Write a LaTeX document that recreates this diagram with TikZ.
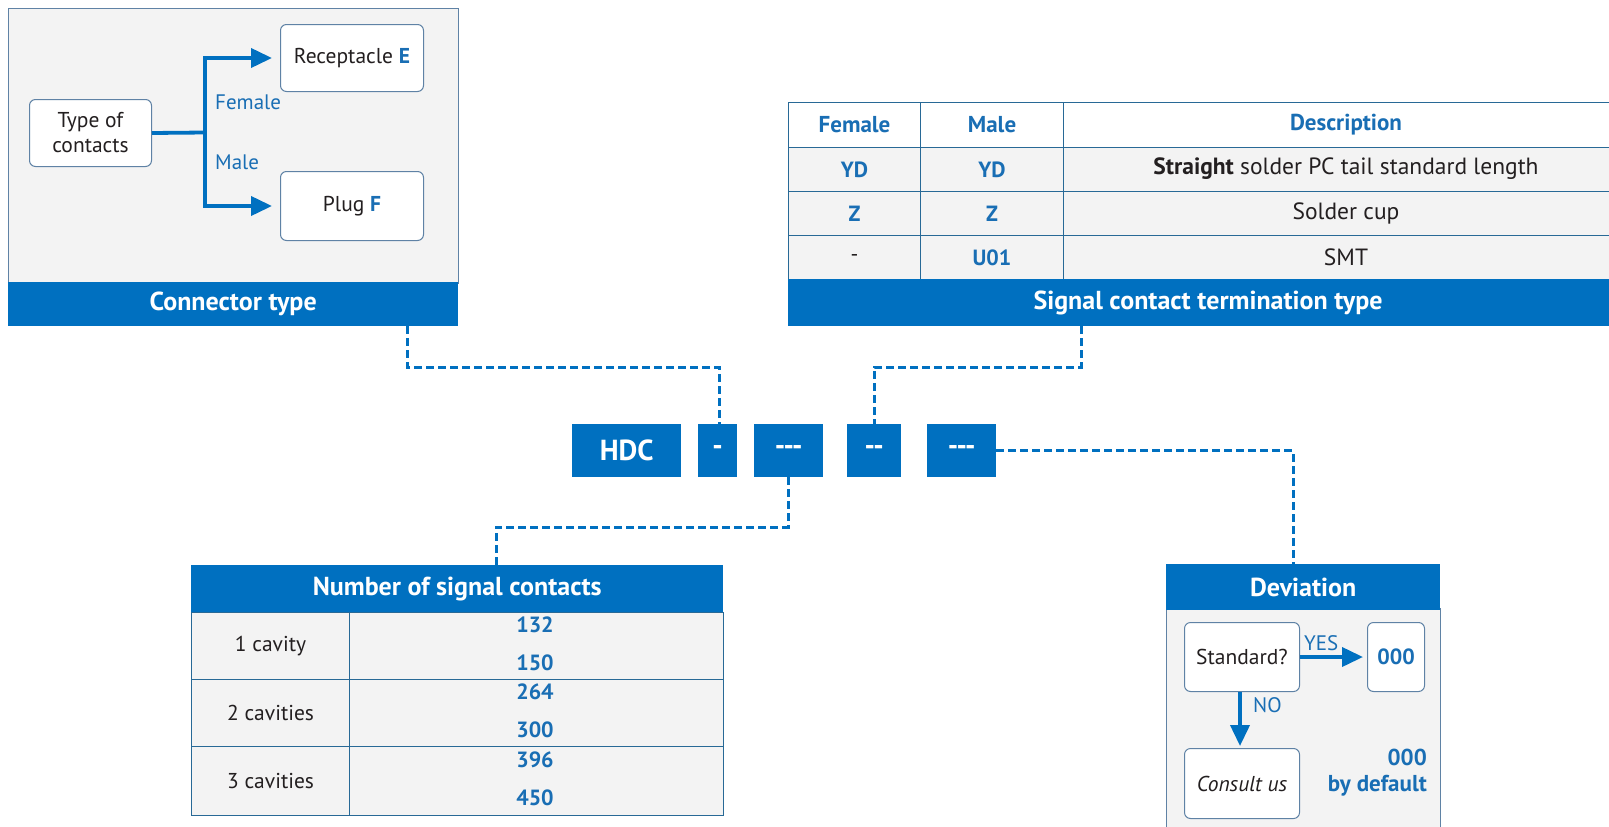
\documentclass[tikz,border=0pt]{standalone}
\usepackage{fontspec}
\setmainfont{PT Sans}
\usetikzlibrary{arrows.meta}
\definecolor{bl}{RGB}{0,112,192}
\definecolor{bgc}{RGB}{243,243,243}
\definecolor{edgec}{RGB}{95,130,165}
\definecolor{linec}{RGB}{40,105,150}
\definecolor{txt}{RGB}{35,31,32}
\definecolor{btxt}{RGB}{25,110,180}
\begin{document}
\begin{tikzpicture}[x=1pt,y=-1pt,
  panel/.style={draw=edgec, fill=bgc, line width=1pt, anchor=north west, inner sep=0pt},
  band/.style={fill=bl, anchor=north west, inner sep=0pt, text=white, font=\fontsize{26}{28}\selectfont\bfseries},
  bandtext/.style={inner sep=0pt, text=white, font=\fontsize{26}{28}\selectfont\bfseries},
  rbox/.style={draw=edgec, fill=white, rounded corners=6pt, line width=1pt, anchor=north west, inner sep=0pt, align=center, text=txt, font=\fontsize{21.5}{25}\selectfont},
  cell/.style={draw=linec, line width=1.1pt, anchor=north west, inner sep=0pt, fill=bgc, text=txt, font=\fontsize{21.5}{25}\selectfont},
  bcell/.style={cell, text=btxt, font=\fontsize{22}{25}\selectfont\bfseries},
  hcell/.style={cell, fill=white, text=btxt, font=\fontsize{23}{26}\selectfont\bfseries},
  desc/.style={inner sep=0pt, text=txt, font=\fontsize{23.5}{26}\selectfont},
  bnum/.style={text=btxt, font=\fontsize{22}{25}\selectfont\bfseries, inner sep=0pt},
  lbl/.style={text=btxt, font=\fontsize{21}{24}\selectfont, inner sep=0pt},
  flow/.style={draw=bl, line width=3.8pt, -{Triangle[length=21pt,width=19pt]}},
  dashlink/.style={draw=bl, line width=3pt, dash pattern=on 8pt off 4pt},
  code/.style={fill=bl, anchor=north west, text=white, inner sep=0pt, font=\fontsize{29}{32}\selectfont\bfseries}
]
\useasboundingbox (0,0) rectangle (1609,827);
\clip (0,0) rectangle (1609,827);

% ---------- Connector type ----------
\node[panel, minimum width=450pt, minimum height=275pt] (ctpanel) at (8,8) {};
\node[band, minimum width=450pt, minimum height=44pt] (ctband) at (8,282) {Connector type};
\node[rbox, minimum width=122pt, minimum height=67pt] (toc) at (29,99) {Type of\\contacts};
\node[rbox, minimum width=143pt, minimum height=67pt] (rec) at (280,24) {Receptacle \textcolor{btxt}{\bfseries E}};
\node[rbox, minimum width=143pt, minimum height=69pt] (plug) at (280,171) {Plug \textcolor{btxt}{\bfseries F}};
\coordinate (split) at (205,132.5);
\draw[flow] (toc.east) -- (split) |- ([xshift=-8pt]rec.west);
\draw[flow] (split) |- ([xshift=-8pt]plug.west);
\node[lbl, anchor=west] (fem) at (215,102) {Female};
\node[lbl, anchor=west] (mal) at (215,162) {Male};

% ---------- Signal contact termination type ----------
\node[hcell, minimum width=132pt, minimum height=45pt] (h1) at (788,102) {Female};
\node[hcell, minimum width=143pt, minimum height=45pt] (h2) at (920,102) {Male};
\node[hcell, minimum width=560pt, minimum height=45pt] (h3) at (1063,102) {};
\node[inner sep=0pt, text=btxt, font=\fontsize{23}{26}\selectfont\bfseries] (h3t) at (1346,125) {Description};
\node[bcell, minimum width=132pt, minimum height=44pt] (a1) at (788,147) {YD};
\node[bcell, minimum width=143pt, minimum height=44pt] (a2) at (920,147) {YD};
\node[cell, minimum width=560pt, minimum height=44pt] (a3) at (1063,147) {};
\node[desc] (a3t) at (1346,169) {\textbf{Straight} solder PC tail standard length};
\node[bcell, minimum width=132pt, minimum height=44pt] (b1) at (788,191) {Z};
\node[bcell, minimum width=143pt, minimum height=44pt] (b2) at (920,191) {Z};
\node[cell, minimum width=560pt, minimum height=44pt] (b3) at (1063,191) {};
\node[desc] (b3t) at (1346,213) {Solder cup};
\node[cell, minimum width=132pt, minimum height=44pt] (c1) at (788,235) {-};
\node[bcell, minimum width=143pt, minimum height=44pt] (c2) at (920,235) {U01};
\node[cell, minimum width=560pt, minimum height=44pt] (c3) at (1063,235) {};
\node[desc] (c3t) at (1346,257) {SMT};
\node[band, minimum width=830pt, minimum height=47pt] (stband) at (788,279) {};
\node[bandtext] (stbandt) at (1208,302.5) {Signal contact termination type};

% ---------- Code boxes ----------
\node[code, minimum width=109pt, minimum height=53pt] (hdc) at (572,424) {HDC};
\node[code, minimum width=39pt, minimum height=53pt] (k1) at (698,424) {-};
\node[code, minimum width=69pt, minimum height=53pt] (k2) at (754,424) {-{}-{}-};
\node[code, minimum width=54pt, minimum height=53pt] (k3) at (847,424) {-{}-};
\node[code, minimum width=69pt, minimum height=53pt] (k4) at (927,424) {-{}-{}-};

% ---------- Number of signal contacts ----------
\node[band, minimum width=532pt, minimum height=47pt] (nband) at (191,565) {Number of signal contacts};
\node[cell, minimum width=158pt, minimum height=67pt] (n11) at (191,612) {1 cavity};
\node[cell, minimum width=374pt, minimum height=67pt] (n12) at (349,612) {};
\node[cell, minimum width=158pt, minimum height=67pt] (n21) at (191,679) {2 cavities};
\node[cell, minimum width=374pt, minimum height=67pt] (n22) at (349,679) {};
\node[cell, minimum width=158pt, minimum height=69pt] (n31) at (191,746) {3 cavities};
\node[cell, minimum width=374pt, minimum height=69pt] (n32) at (349,746) {};
\node[bnum] (v1) at (535,625) {132};
\node[bnum] (v2) at (535,663) {150};
\node[bnum] (v3) at (535,692) {264};
\node[bnum] (v4) at (535,730) {300};
\node[bnum] (v5) at (535,760) {396};
\node[bnum] (v6) at (535,798) {450};

% ---------- Deviation ----------
\node[panel, minimum width=274pt, minimum height=230pt] (dpanel) at (1166,608) {};
\node[band, minimum width=274pt, minimum height=46pt] (dband) at (1166,564) {Deviation};
\node[rbox, minimum width=115pt, minimum height=69pt] (std) at (1184,622) {Standard?};
\node[rbox, minimum width=57pt, minimum height=69pt, text=btxt, font=\fontsize{22}{25}\selectfont\bfseries] (zero) at (1367,622) {000};
\node[rbox, minimum width=115pt, minimum height=70pt, font=\fontsize{21.5}{25}\selectfont\itshape] (consult) at (1184,748) {Consult us};
\draw[flow] (std.east) -- ([xshift=-4pt]zero.west);
\draw[flow] ([xshift=-2pt]std.south) -- ([xshift=-2pt,yshift=2pt]consult.north);
\node[lbl, anchor=south west] (yes) at (1304,651) {YES};
\node[lbl, anchor=north west] (no) at (1253,697) {NO};
\node[text=btxt, font=\fontsize{23}{26}\selectfont\bfseries, align=right, inner sep=0pt, anchor=east] (dflt) at (1427,773) {000\\by default};

% ---------- Dashed links ----------
\draw[dashlink] (ctband.south -| 407,0) |- (719,367) -- (k1.north -| 719,0);
\draw[dashlink] (stband.south -| 1081,0) |- (874,367) -- (k3.north -| 874,0);
\draw[dashlink] (k2.south -| 788,0) |- (496,527) -- (nband.north -| 496,0);
\draw[dashlink] (k4.east) -| (dband.north -| 1293,0);
\end{tikzpicture}
\end{document}
